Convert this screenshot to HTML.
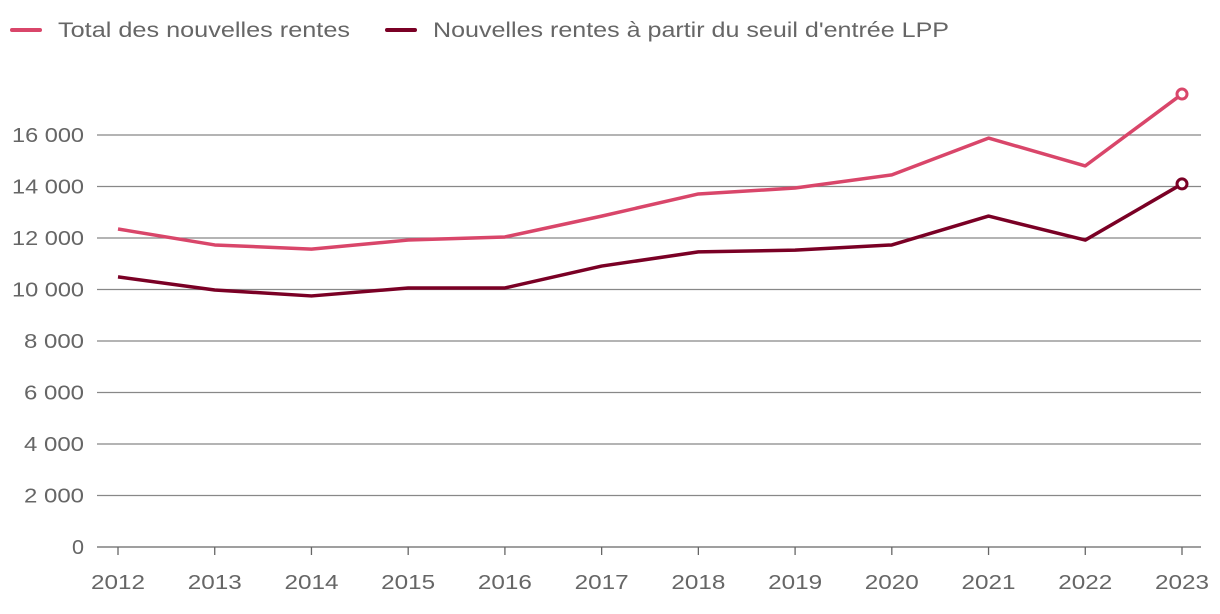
<!DOCTYPE html>
<html><head><meta charset="utf-8"><style>
html,body{margin:0;padding:0;background:#fff;width:1220px;height:614px;overflow:hidden}
svg text{font-family:"Liberation Sans",sans-serif;fill:#666}
</style></head><body>
<svg id="chart" width="1220" height="614" xmlns="http://www.w3.org/2000/svg">
<g>
<g><line x1="12" y1="30" x2="40" y2="30" stroke="#d9466a" stroke-width="4" stroke-linecap="round"/><text x="58" y="37" font-size="21" textLength="292" lengthAdjust="spacingAndGlyphs">Total des nouvelles rentes</text></g>
<g><line x1="387" y1="30" x2="415" y2="30" stroke="#7a0025" stroke-width="4" stroke-linecap="round"/><text x="433" y="37" font-size="21" textLength="516" lengthAdjust="spacingAndGlyphs">Nouvelles rentes à partir du seuil d'entrée LPP</text></g>
</g>
<g id="grid"></g>
<g id="yaxis"></g>
<g id="xaxis"></g>
<g id="series"></g>
</svg>
<script>
const years=[2012,2013,2014,2015,2016,2017,2018,2019,2020,2021,2022,2023];
const totalValues=[12350,11730,11570,11920,12040,12850,13710,13940,14450,15880,14800,17590];
const lppValues=[10490,9980,9750,10060,10060,10910,11460,11530,11730,12850,11920,14100];
const yTicks=[0,2000,4000,6000,8000,10000,12000,14000,16000];
const yTickLabels=["0","2 000","4 000","6 000","8 000","10 000","12 000","14 000","16 000"];
const NS="http://www.w3.org/2000/svg";
const x=i=>118+i*(1182-118)/(years.length-1);
const y=v=>547-v*(547-135)/16000;
function mk(t,a,p){const e=document.createElementNS(NS,t);for(const k in a)e.setAttribute(k,a[k]);p.appendChild(e);return e;}
const grid=document.getElementById('grid'),ya=document.getElementById('yaxis'),xa=document.getElementById('xaxis'),se=document.getElementById('series');
yTicks.forEach((v,i)=>{
 const l=mk('line',{x1:97,x2:1201,y1:y(v),y2:y(v),stroke:v===0?'#666':'#888','stroke-width':1.3},grid);
 
 
 const lab=yTickLabels[i];
 const w=lab.length*12;
 const t=mk('text',{x:84,y:y(v)+7,'font-size':20,'text-anchor':'end',textLength:w,lengthAdjust:'spacingAndGlyphs'},ya);t.textContent=lab;
 
 
});
years.forEach((yr,i)=>{
 const tk=mk('line',{x1:x(i),x2:x(i),y1:547,y2:555,stroke:'#666','stroke-width':1.3},xa);
 
 
 const t=mk('text',{x:x(i),y:589,'font-size':20,'text-anchor':'middle',textLength:54,lengthAdjust:'spacingAndGlyphs'},xa);t.textContent=yr;
 
 
});
function draw(vals,col,name){
 const p=mk('polyline',{points:vals.map((v,i)=>x(i)+','+y(v)).join(' '),fill:'none',stroke:col,'stroke-width':3.5,'stroke-linejoin':'round'},se);
 
 
 const n=vals.length-1;
 const c=mk('circle',{cx:x(n),cy:y(vals[n]),r:5,fill:'#fff',stroke:col,'stroke-width':3},se);
 
 
}
draw(totalValues,'#d9466a','total');
draw(lppValues,'#7a0025','lpp');
</script>
</body></html>
